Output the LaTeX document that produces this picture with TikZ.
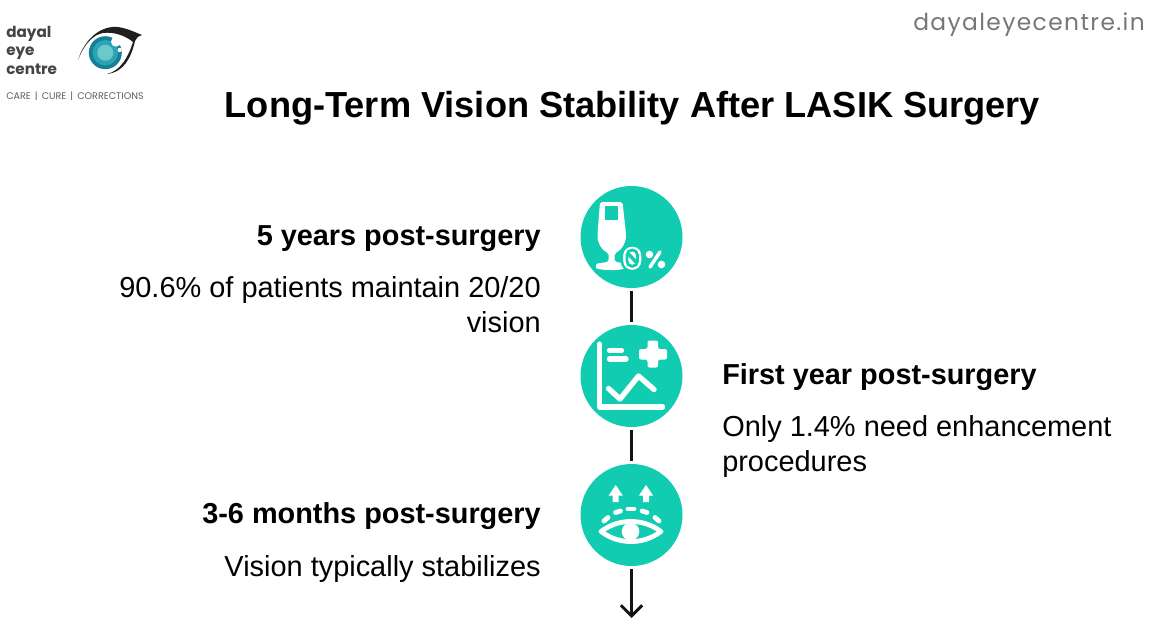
\documentclass[tikz,border=0pt]{standalone}
\usepackage{fontspec}
\setmainfont{Liberation Sans}
\newfontfamily\pop{Poppins}
\newfontfamily\popsp[LetterSpace=6]{Poppins}
\definecolor{tealc}{HTML}{12CCB2}
\definecolor{logogray}{HTML}{444444}
\definecolor{urlgray}{HTML}{777777}
\definecolor{irisa}{HTML}{157F97}
\definecolor{irisb}{HTML}{2BA5B5}
\definecolor{irisc}{HTML}{6CC9CB}
\usetikzlibrary{arrows.meta}
\tikzset{
  x=0.75pt,y=-0.75pt,
  disc/.style={circle,fill=tealc,draw=none,minimum size=76.5pt,inner sep=0pt},
  head/.style={font=\fontsize{21.65}{26}\selectfont\bfseries,inner sep=0pt},
  body/.style={font=\fontsize{21.7}{26.4}\selectfont,inner sep=0pt},
  link/.style={line width=2.2pt,black!92,shorten >=2pt,shorten <=2pt,line cap=butt},
  ico/.style={draw=white,line width=4pt,line cap=round,line join=round},
  icothin/.style={draw=white,line width=3.6pt,line cap=round,line join=round},
  logotext/.style={anchor=base west,inner sep=0pt,font=\pop\fontsize{11.4}{13}\selectfont\bfseries,text=logogray},
}
\begin{document}
\begin{tikzpicture}
\useasboundingbox (0,0) rectangle (1170,628);
\fill[white] (0,0) rectangle (1170,628);
% logo
\node[logotext] (l1) at (6,37) {dayal};
\node[logotext] (l2) at (6,55.5) {eye};
\node[logotext] (l3) at (6,74) {centre};
\node[anchor=west,inner sep=0pt,font=\pop\fontsize{7.2}{9}\selectfont,text=logogray!85] (l4) at (6,96) {CARE\hspace{1.1pt} | \hspace{1.1pt}CURE\hspace{1.1pt} | \hspace{1.1pt}CORRECTIONS};
\fill[black!88] (78,60) .. controls (83,44) and (95,29) .. (112,27) .. controls (122,26) and (132,31) .. (142,35)
  .. controls (138,36.5) and (136,38) .. (135,41) .. controls (131,58) and (124,72) .. (107,74)
  .. controls (120,71) and (128,58) .. (133,42) .. controls (126,36) and (114,31.5) .. (103,33) .. controls (92,35) and (84,45) .. (78,60) -- cycle;
\fill[irisa] (105.3,52.7) circle[radius=16.5];
\fill[irisb] (105.3,52.7) circle[radius=12.7];
\fill[irisc] (105.3,52.7) circle[radius=8];
\fill[white] (116,41.7) circle[radius=5];
\fill[white] (119.7,50) circle[radius=2.2];
% url
\node[anchor=base east,inner sep=0pt,font=\popsp\fontsize{17.5}{20}\selectfont,text=urlgray] (url) at (1145,30) {dayaleyecentre.in};
% title
\node[inner sep=0pt,font=\fontsize{27.15}{32}\selectfont\bfseries] (title) at (632.5,108) {Long-Term Vision Stability After LASIK Surgery};
% discs
\node[disc] (c1) at (631.5,237) {};
\node[disc] (c2) at (631.5,376) {};
\node[disc] (c3) at (631.5,515) {};
\coordinate (end) at (631.5,618);
\draw[link] (c1) -- (c2);
\draw[link] (c2) -- (c3);
\draw[line width=2.2pt,black!92,shorten <=2pt,-{Straight Barb[length=8pt,width=16pt,line width=2.2pt]}] (c3) -- (end);
% glass icon
\fill[white,rounded corners=1.5pt] (600,202) -- (622.5,202) -- (626,234) .. controls (626,244) and (620,251) .. (614.7,253) -- (614.7,262)
  .. controls (621,262.5) and (626,264) .. (626,266) .. controls (626,268.5) and (621,270) .. (611,270) .. controls (601,270) and (596,268.5) .. (596,266)
  .. controls (596,264) and (602,262.5) .. (608.7,262) -- (608.7,253) .. controls (603,251) and (597.5,244) .. (597.5,234) -- cycle;
\fill[tealc] (604.7,206) rectangle (618,220);
\fill[white,draw=tealc,line width=1.8pt,rounded corners=7.2pt] (622,245.5) rectangle (642.5,271);
\draw[tealc,line width=2.1pt,rounded corners=3.8pt] (627,250) rectangle (637.5,266.3);
\draw[tealc,line width=2.6pt] (627.5,253) -- (637,263);
\draw[white,line width=2.6pt,line cap=round] (660,252) -- (650,267);
\fill[white] (649.5,254.5) circle[radius=3.8];
\fill[white] (661.5,264.5) circle[radius=3.8];
% chart icon
\draw[ico] (599.5,344) -- (599.5,407) -- (662.5,407);
\draw[ico] (609.5,350.5) -- (621.5,350.5);
\draw[ico] (609.5,359) -- (626,359);
\fill[white,rounded corners=1.5pt] (647.5,340.5) -- (658,340.5) -- (658,349) -- (667,349) -- (667,359.5) -- (658,359.5) -- (658,367.5) -- (647.5,367.5) -- (647.5,359.5) -- (639,359.5) -- (639,349) -- (647.5,349) -- cycle;
\draw[ico] (608.5,388.5) -- (620,399) -- (638.5,376) -- (654,389.5);
% eye icon
\fill[white] (615.7,485) -- (622.7,495.5) -- (618.7,495.5) -- (618.7,502) -- (612.7,502) -- (612.7,495.5) -- (608.7,495.5) -- cycle;
\fill[white] (646,485) -- (653,495.5) -- (649,495.5) -- (649,502) -- (643,502) -- (643,495.5) -- (639,495.5) -- cycle;
\draw[icothin] (604,521) -- (608,517.5);
\draw[icothin] (615.5,512.5) -- (620.5,511);
\draw[icothin] (628,509) -- (634,509);
\draw[icothin] (642,511) -- (647,512.5);
\draw[icothin] (655,517.5) -- (659,521);
\draw[icothin] (601,531.5) .. controls (612,523.5) and (622,521.5) .. (631,521.5) .. controls (640,521.5) and (650,523.5) .. (661,531.5)
  .. controls (650,539.5) and (640,541.5) .. (631,541.5) .. controls (622,541.5) and (612,539.5) .. (601,531.5) -- cycle;
\fill[white] (630.5,531.5) circle[radius=8.8];
% texts
\node[head,anchor=east] (h1) at (541,239) {5 years post-surgery};
\node[body,anchor=north east,align=right] (b1) at (541,276) {90.6\% of patients maintain 20/20\\vision};
\node[head,anchor=west] (h2) at (722,377.5) {First year post-surgery};
\node[body,anchor=north west,align=left] (b2) at (722,415) {Only 1.4\% need enhancement\\procedures};
\node[head,anchor=east] (h3) at (541,516.5) {3-6 months post-surgery};
\node[body,anchor=east] (b3) at (541,569) {Vision typically stabilizes};
\end{tikzpicture}
\end{document}
